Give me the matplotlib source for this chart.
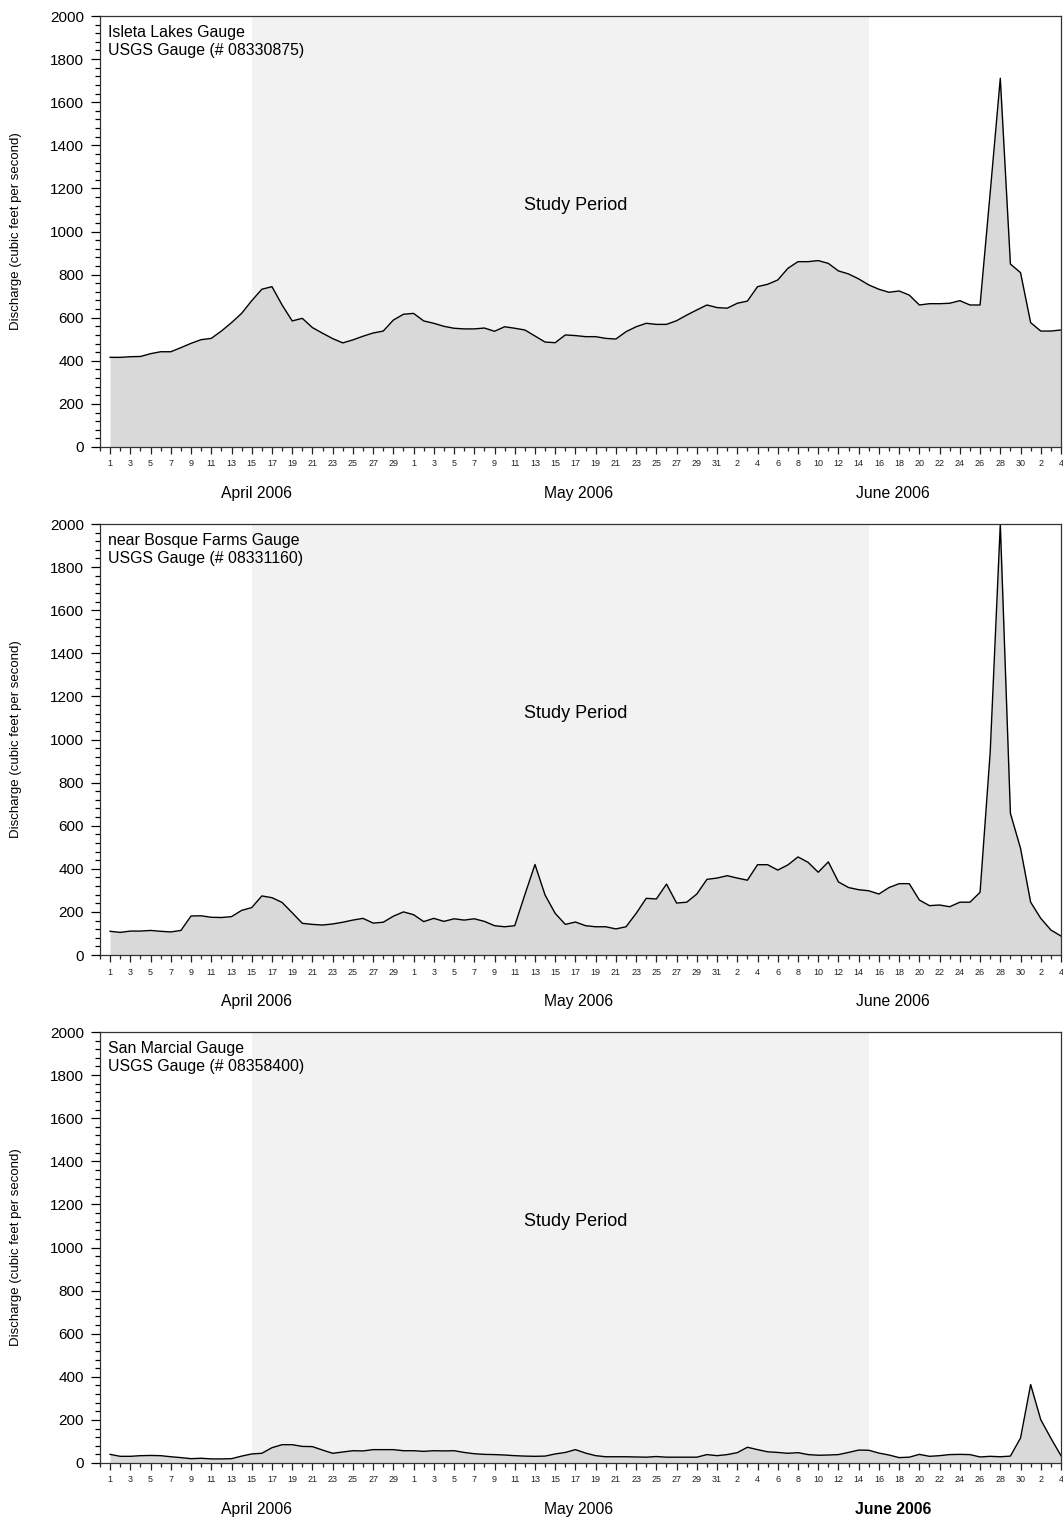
import datetime as dt

import matplotlib
matplotlib.use("Agg")
import matplotlib.pyplot as plt
from matplotlib.ticker import MultipleLocator, FixedLocator
import numpy as np

plt.rcParams['font.family'] = ['Liberation Sans', 'DejaVu Sans']

# daily mean discharge, cfs, 1 Apr - 4 Jul 2006
START = dt.date(2006, 4, 1)

isleta_apr = [416, 416, 419, 420, 433, 442, 442, 461, 481, 498, 504, 538, 577, 620, 679,
              732, 744, 659, 585, 597, 554, 528, 503, 483, 497, 514, 529, 538, 589, 616]
isleta_may = [620, 585, 574, 560, 551, 548, 548, 552, 537, 558, 551, 543, 515, 487, 484, 520,
              517, 512, 512, 504, 501, 535, 558, 574, 569, 569, 586, 612, 636, 659, 647]
isleta_jun = [644, 667, 677, 744, 755, 775, 829, 860, 860, 865, 852, 817, 803, 780, 752,
              732, 718, 724, 705, 659, 665, 665, 667, 679, 659, 659, 1180, 1711, 849, 809]
isleta_jul = [577, 538, 538, 543]

bosque_apr = [110, 105, 111, 111, 114, 110, 107, 114, 181, 182, 175, 174, 178, 207, 220,
              274, 266, 244, 196, 147, 142, 139, 144, 152, 162, 170, 148, 152, 180, 200]
bosque_may = [187, 155, 170, 156, 168, 162, 168, 156, 136, 131, 136, 280, 420, 278, 193, 142,
              153, 136, 131, 131, 121, 131, 193, 263, 260, 329, 241, 245, 283, 351, 357]
bosque_jun = [368, 357, 347, 419, 419, 394, 418, 455, 430, 384, 432, 339, 313, 303, 298,
              283, 313, 331, 331, 255, 229, 232, 224, 245, 245, 291, 940, 2000, 657, 495]
bosque_jul = [245, 170, 116, 88]

marcial_apr = [40, 31, 31, 34, 35, 34, 29, 25, 20, 22, 19, 19, 20, 32, 42,
               45, 71, 85, 85, 77, 76, 60, 45, 51, 57, 56, 62, 62, 62, 57]
marcial_may = [57, 54, 57, 56, 57, 49, 43, 40, 39, 37, 34, 32, 31, 32, 42, 49,
               62, 46, 34, 29, 29, 29, 28, 27, 30, 27, 27, 27, 27, 39, 34]
marcial_jun = [39, 48, 73, 62, 52, 49, 45, 48, 39, 36, 37, 39, 49, 60, 59,
               46, 37, 25, 27, 40, 31, 34, 39, 40, 39, 28, 31, 29, 32, 116]
marcial_jul = [364, 201, 115, 34]

gauge_names = ["Isleta Lakes Gauge", "near Bosque Farms Gauge", "San Marcial Gauge"]
gauge_ids = ["08330875", "08331160", "08358400"]

study_start = dt.date(2006, 4, 15)
study_end = dt.date(2006, 6, 15)

month_labels = ["April 2006", "May 2006", "June 2006"]
month_label_pos = [14.5, 46.3, 77.4]

series = [
    isleta_apr + isleta_may + isleta_jun + isleta_jul,
    bosque_apr + bosque_may + bosque_jun + bosque_jul,
    marcial_apr + marcial_may + marcial_jun + marcial_jul,
]

n_days = len(series[0])
dates = [START + dt.timedelta(days=i) for i in range(n_days)]
x = np.arange(n_days)
s0 = (study_start - START).days
s1 = (study_end - START).days

fig = plt.figure(figsize=(10.63, 15.19), dpi=100)

W, H = 1063.0, 1519.0
panel_tops = [16, 524, 1032]
ax_h = 431

for k, (name, gid, q) in enumerate(zip(gauge_names, gauge_ids, series)):
    top = panel_tops[k]
    ax = fig.add_axes([100 / W, 1 - (top + ax_h) / H, 961 / W, ax_h / H])

    ax.axvspan(s0, s1, color='#f2f2f2', lw=0, zorder=0)
    ax.fill_between(x, q, 0, color='#d9d9d9', lw=0, zorder=1)
    ax.plot(x, q, color='black', lw=1.0, zorder=2)

    ax.set_xlim(-1, n_days - 1)
    ax.set_ylim(0, 2000)

    # every other day gets a label, the rest just a short tick
    even = x[::2]
    ax.xaxis.set_major_locator(FixedLocator(even))
    ax.set_xticklabels([str(dates[i].day) for i in even], fontsize=6.5)
    ax.xaxis.set_minor_locator(FixedLocator(np.arange(-1, n_days, 2)))
    ax.tick_params(axis='x', which='major', length=5, width=0.9, pad=4, colors='#222222')
    ax.tick_params(axis='x', which='minor', length=3, width=0.9, colors='#222222')

    ax.yaxis.set_major_locator(MultipleLocator(200))
    ax.yaxis.set_minor_locator(MultipleLocator(40))
    ax.tick_params(axis='y', which='major', length=6.5, width=0.9, pad=5, labelsize=11)
    ax.tick_params(axis='y', which='minor', length=3.5, width=0.9)

    for sp in ax.spines.values():
        sp.set_color('#333333')
        sp.set_linewidth(0.9)

    ax.set_ylabel("Discharge (cubic feet per second)", fontsize=9.5)
    ax.yaxis.set_label_coords(-0.081, 0.5)

    ax.text(0.008, 0.979, f"{name}\nUSGS Gauge (# {gid})", transform=ax.transAxes,
            ha='left', va='top', fontsize=11.4, linespacing=1.22)
    ax.text(46, 1120, "Study Period", ha='center', va='center', fontsize=13)

    for j, (lab, pos) in enumerate(zip(month_labels, month_label_pos)):
        bold = (k == 2 and j == 2)
        ax.text(pos, -0.107, lab, transform=ax.get_xaxis_transform(), ha='center',
                va='center', fontsize=11.3, fontweight='bold' if bold else 'normal')

fig.savefig("out.png", dpi=100, facecolor='white')
